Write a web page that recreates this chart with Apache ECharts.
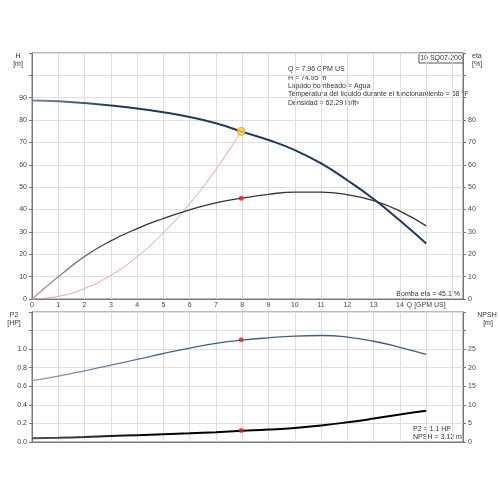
<!DOCTYPE html>
<html>
<head>
<meta charset="utf-8">
<script src="https://cdn.jsdelivr.net/npm/echarts@6/dist/echarts.min.js"></script>
<style>
  html, body { margin: 0; padding: 0; background: #fff; }
  #chart { width: 500px; height: 500px; }
</style>
</head>
<body>
<div id="chart"></div>
<script>
// caudal Q [GPM US]
const flowQ = [0, 1, 2, 3, 4, 5, 6, 7, 8, 9, 10, 11, 12, 13, 14, 15];
// altura H [m]
const headH = [88.8, 88.4, 87.6, 86.5, 85.2, 83.5, 81.4, 78.6, 74.8, 71.1, 66.6, 60.6, 53.1, 44.7, 35.1, 24.8];
// rendimiento bomba eta [%]
const etaPct = [0, 9.9, 19.0, 26.0, 31.5, 36.0, 39.9, 43.0, 45.1, 46.8, 47.8, 47.8, 46.6, 44.0, 39.3, 32.7];
// potencia P2 [HP]
const powerP2 = [0.66, 0.71, 0.767, 0.828, 0.889, 0.953, 1.012, 1.063, 1.097, 1.122, 1.141, 1.147, 1.13, 1.085, 1.02, 0.943];
// NPSH [m]
const npshM = [1.0, 1.15, 1.35, 1.6, 1.85, 2.1, 2.35, 2.65, 3.0, 3.35, 3.8, 4.45, 5.3, 6.3, 7.4, 8.4];
// curva del sistema
const sysQ = [0, 1, 2, 3, 4, 5, 6, 7, 7.96];
const sysH = [0, 1.2, 4.7, 10.6, 18.9, 29.6, 42.6, 58.0, 74.95];
// punto de trabajo
const dutyQ = 7.96, dutyH = 74.95, dutyEta = 45.1, dutyP2 = 1.1, dutyNpsh = 3.12;

const infoLines = [
  "Q = 7.96 GPM US",
  "H = 74.95 m",
  "Líquido bombeado = Agua",
  "Temperatura del líquido durante el funcionamiento = 68 °F",
  "Densidad = 62.29 lb/ft³"
];

const pairs = (xs, ys) => xs.map((x, i) => [x, ys[i]]);
const font = "Liberation Sans, Arial, sans-serif";
const labelStyle = { fontSize: 7, color: "#444", fontFamily: font };
const gridLine = { show: true, lineStyle: { color: "#dedede", width: 1 } };
const axLine = { show: true, lineStyle: { color: "#777", width: 1 } };
const tick = { show: true, length: 3, lineStyle: { color: "#777" } };

function grad(c0, c1, stop) {
  return new echarts.graphic.LinearGradient(0, 0, 1, 0, [
    { offset: 0, color: c0 },
    { offset: stop, color: c1 },
    { offset: 1, color: c1 }
  ]);
}

const chart = echarts.init(document.getElementById("chart"));

const txt = (x, y, s, align) => ({
  type: "text", x: x, y: y,
  style: { text: s, fontSize: 7, fill: "#333", fontFamily: font, align: align || "left", verticalAlign: "middle" }
});

const graphics = [
  txt(18, 56, "H", "center"),
  txt(18, 64, "[m]", "center"),
  txt(472, 56, "eta", "left"),
  txt(472, 64, "[%]", "left"),
  txt(14, 315, "P2", "center"),
  txt(14, 323, "[HP]", "center"),
  txt(487, 315, "NPSH", "center"),
  txt(488, 323, "[m]", "center"),
  {
    type: "rect", shape: { x: 419, y: 53, width: 44, height: 10 },
    style: { fill: "#fff", stroke: "#555", lineWidth: 1 }
  },
  txt(441, 58.5, "10 SQ07-200", "center"),
  txt(460, 294, "Bomba eta = 45.1 %", "right"),
  txt(413, 429, "P2 = 1.1 HP", "left"),
  txt(413, 437, "NPSH = 3.12 m", "left")
];
infoLines.forEach((s, i) => graphics.push(txt(288, 69.5 + i * 8.3, s, "left")));

const curve = { type: "line", smooth: 0.5, symbol: "none" };

const option = {
  animation: false,
  backgroundColor: "#fff",
  grid: [
    { left: 32, right: 37, top: 53, height: 246, show: true, borderColor: "#777", borderWidth: 1 },
    { left: 32, right: 37, top: 312, height: 130, show: true, borderColor: "#777", borderWidth: 1 }
  ],
  xAxis: [
    {
      gridIndex: 0, type: "value", min: 0, max: 16.4, interval: 1,
      axisLine: axLine, axisTick: { show: false }, splitLine: gridLine,
      axisLabel: Object.assign({}, labelStyle, {
        margin: 3, showMaxLabel: false,
        formatter: v => (v <= 14 ? String(v) : v === 15 ? "Q [GPM US]" : "")
      })
    },
    {
      gridIndex: 1, type: "value", min: 0, max: 16.4, interval: 1,
      axisLine: axLine, axisTick: { show: false }, splitLine: gridLine,
      axisLabel: { show: false }
    }
  ],
  yAxis: [
    {
      gridIndex: 0, type: "value", min: 0, max: 110, interval: 10,
      axisLine: axLine, axisTick: tick, splitLine: gridLine,
      axisLabel: Object.assign({}, labelStyle, { margin: 5, formatter: v => (v <= 90 ? String(v) : "") })
    },
    {
      gridIndex: 0, type: "value", min: 0, max: 110, interval: 10, position: "right",
      axisLine: axLine, axisTick: tick, splitLine: { show: false },
      axisLabel: Object.assign({}, labelStyle, { margin: 5, formatter: v => (v <= 80 ? String(v) : "") })
    },
    {
      gridIndex: 1, type: "value", min: 0, max: 1.4, interval: 0.2,
      axisLine: axLine, axisTick: tick, splitLine: gridLine,
      axisLabel: Object.assign({}, labelStyle, { margin: 5, formatter: v => (v <= 1.01 ? v.toFixed(1) : "") })
    },
    {
      gridIndex: 1, type: "value", min: 0, max: 35, interval: 5, position: "right",
      axisLine: axLine, axisTick: tick, splitLine: { show: false },
      axisLabel: Object.assign({}, labelStyle, { margin: 5, formatter: v => (v <= 25 ? String(v) : "") })
    }
  ],
  series: [
    Object.assign({}, curve, {
      name: "Sistema", xAxisIndex: 0, yAxisIndex: 0,
      data: pairs(sysQ, sysH), lineStyle: { color: "#ee9c9c", width: 1 }, z: 2
    }),
    Object.assign({}, curve, {
      name: "eta", xAxisIndex: 0, yAxisIndex: 1,
      data: pairs(flowQ, etaPct), lineStyle: { color: grad("#aaa", "#333", 0.22), width: 1.3 }, z: 3
    }),
    Object.assign({}, curve, {
      name: "H", xAxisIndex: 0, yAxisIndex: 0,
      data: pairs(flowQ, headH), lineStyle: { color: grad("#7c8ea6", "#1b3a64", 0.22), width: 2 }, z: 4
    }),
    Object.assign({}, curve, {
      name: "P2", xAxisIndex: 1, yAxisIndex: 2,
      data: pairs(flowQ, powerP2), lineStyle: { color: grad("#8da0b5", "#405f82", 0.4), width: 1.3 }, z: 3
    }),
    Object.assign({}, curve, {
      name: "NPSH", xAxisIndex: 1, yAxisIndex: 3,
      data: pairs(flowQ, npshM), lineStyle: { color: grad("#555", "#000", 0.3), width: 2 }, z: 3
    }),
    {
      type: "scatter", xAxisIndex: 0, yAxisIndex: 0, data: [[dutyQ, dutyH]], symbolSize: 8,
      itemStyle: { color: "#ffd23f", borderColor: "#f29a2e", borderWidth: 1 }, z: 10
    },
    {
      type: "scatter", xAxisIndex: 0, yAxisIndex: 1, data: [[dutyQ, dutyEta]], symbolSize: 5,
      itemStyle: { color: "#e02424" }, z: 10
    },
    {
      type: "scatter", xAxisIndex: 1, yAxisIndex: 2, data: [[dutyQ, dutyP2]], symbolSize: 5,
      itemStyle: { color: "#e02424" }, z: 10
    },
    {
      type: "scatter", xAxisIndex: 1, yAxisIndex: 3, data: [[dutyQ, dutyNpsh]], symbolSize: 5,
      itemStyle: { color: "#e02424" }, z: 10
    }
  ],
  graphic: graphics
};

chart.setOption(option);
</script>
</body>
</html>
